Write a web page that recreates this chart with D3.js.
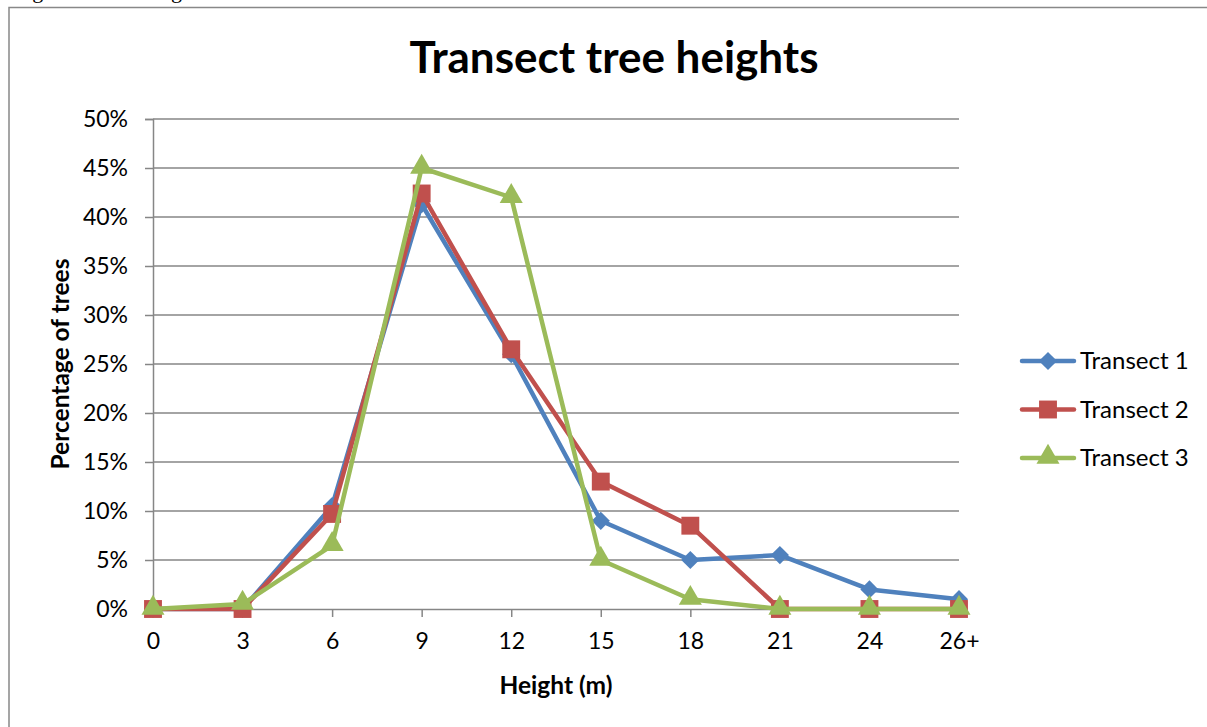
<!DOCTYPE html>
<html><head><meta charset="utf-8">
<script src="https://cdn.jsdelivr.net/npm/d3@7"></script>
<style>body{margin:0;background:#fff;}svg{display:block;font-family:Lato,"Open Sans",sans-serif;}</style>
</head><body>
<script>
const categories = ["0","3","6","9","12","15","18","21","24","26+"];
const transect1 = [0, 0, 10.5, 41.3, 26, 9, 5, 5.5, 2, 1];
const transect2 = [0, 0, 9.7, 42.4, 26.5, 13, 8.5, 0, 0, 0];
const transect3 = [0, 0.5, 6.5, 45, 42, 5, 1, 0, 0, 0];
const seriesNames = ["Transect 1","Transect 2","Transect 3"];
const seriesColors = ["#4F81BD","#C0504D","#9BBB59"];
const yTicks = [0,5,10,15,20,25,30,35,40,45,50];

const W=1207,H=727;
const svg=d3.select("body").append("svg").attr("width",W).attr("height",H);

// cut-off caption above frame (only descenders visible, as in the reference)
svg.append("text").attr("x",14).attr("y",-2).attr("font-family","Liberation Serif").attr("font-size",22)
  .text("Figure 3: Tree heights");
// frame
svg.append("path").attr("d",`M9,${H} L9,7.5 L${W},7.5`).attr("fill","none").attr("stroke","#888").attr("stroke-width",1.5);

const x=d3.scalePoint().domain(categories).range([153,959]);
const y=d3.scaleLinear().domain([0,50]).range([609,119]);

// gridlines
svg.append("g").selectAll("line").data(yTicks.slice(1)).join("line")
  .attr("x1",153).attr("x2",959).attr("y1",d=>y(d)).attr("y2",d=>y(d))
  .attr("stroke","#868686").attr("stroke-width",1.5);

const yAxis=svg.append("g").attr("transform","translate(153,0)")
  .call(d3.axisLeft(y).tickValues(yTicks).tickFormat(d=>d+"%").tickSize(8).tickPadding(17));
const xAxis=svg.append("g").attr("transform","translate(0,609)")
  .call(d3.axisBottom(x).tickSize(8).tickPadding(12));
[yAxis,xAxis].forEach(a=>{
  a.select(".domain").attr("stroke","#868686").attr("stroke-width",1.5);
  a.selectAll(".tick line").attr("stroke","#868686").attr("stroke-width",1.5);
  a.selectAll("text").attr("font-size",23).attr("fill","#000").attr("font-family","Lato");
});
xAxis.selectAll(".tick text").attr("dy","0.85em");

// title
svg.append("text").attr("x",614).attr("y",73).attr("text-anchor","middle")
  .attr("font-weight","bold").attr("font-size",44).text("Transect tree heights");
svg.append("text").attr("x",556).attr("y",694).attr("text-anchor","middle")
  .attr("font-weight","bold").attr("font-size",24.5).text("Height (m)");
svg.append("text").attr("transform","translate(69,364) rotate(-90)").attr("text-anchor","middle")
  .attr("font-weight","bold").attr("font-size",24.5).text("Percentage of trees");

const data=[transect1,transect2,transect3];
const diamond = {draw(ctx,size){const r=Math.sqrt(size/2);ctx.moveTo(0,-r);ctx.lineTo(r,0);ctx.lineTo(0,r);ctx.lineTo(-r,0);ctx.closePath();}};
const symbols=[diamond,d3.symbolSquare,d3.symbolTriangle];
const sizes=[165,320,230];
const line=d3.line().x((d,i)=>x(categories[i])).y(d=>y(d));

data.forEach((vals,s)=>{
  const g=svg.append("g");
  g.append("path").datum(vals).attr("d",line).attr("fill","none")
    .attr("stroke",seriesColors[s]).attr("stroke-width",4.5).attr("stroke-linejoin","round");
  g.selectAll("path.m").data(vals).join("path").attr("class","m")
    .attr("transform",(d,i)=>`translate(${x(categories[i])},${y(d)+(s===2?-1:0)})`)
    .attr("d",d3.symbol(symbols[s],sizes[s])).attr("fill",seriesColors[s]);
});

// legend
const leg=svg.append("g");
seriesNames.forEach((n,i)=>{
  const yy=361+i*48.5;
  leg.append("line").attr("x1",1022).attr("x2",1074).attr("y1",yy).attr("y2",yy)
    .attr("stroke",seriesColors[i]).attr("stroke-width",4.5).attr("stroke-linecap","round");
  leg.append("path").attr("transform",`translate(1048,${yy+(i===2?-1:0)})`)
    .attr("d",d3.symbol(symbols[i],sizes[i])).attr("fill",seriesColors[i]);
  leg.append("text").attr("x",1080).attr("y",yy).attr("dy","0.35em").attr("font-size",24).text(n);
});
</script>
</body></html>
